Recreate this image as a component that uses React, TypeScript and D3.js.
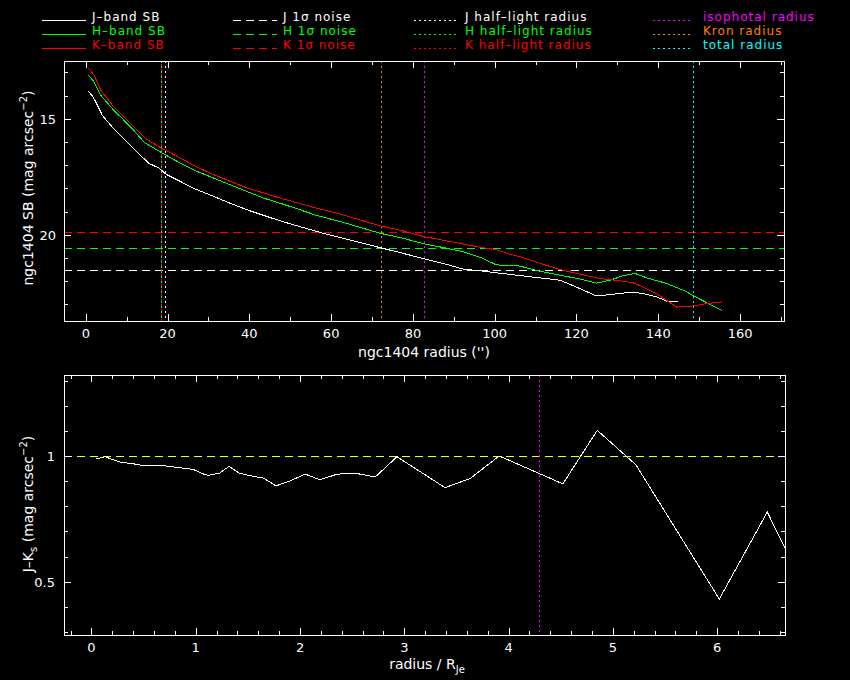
import { scaleLinear, line, range } from "d3";

// surface brightness profiles: [radius ("), SB (mag arcsec^-2)]
const jProfile: [number, number][] = [
  [0.64, 13.81], [1.79, 14.06], [2.85, 14.42], [4.07, 14.86], [6.52, 15.37],
  [8.97, 15.8], [11.4, 16.23], [13.5, 16.6], [15.5, 16.93], [17.95, 17.13],
  [19.6, 17.39], [22.85, 17.68], [26.9, 18.04], [31.0, 18.33], [35.1, 18.63],
  [40.0, 18.96], [44.9, 19.25], [49.8, 19.52], [57.9, 19.93], [66.1, 20.29],
  [71.8, 20.55], [77.5, 20.8], [82.4, 21.02], [88.2, 21.28], [92.2, 21.48],
  [97.1, 21.57], [100.4, 21.64], [106.1, 21.76], [111.0, 21.86], [115.9, 21.96],
  [117.5, 22.07], [120.8, 22.32], [124.9, 22.64], [128.2, 22.58], [133.8, 22.47],
  [136.3, 22.54], [139.6, 22.68], [142.0, 22.86], [144.9, 22.9],
];

const hProfile: [number, number][] = [
  [0.64, 13.12], [2.03, 13.41], [3.67, 13.99], [6.52, 14.57], [8.97, 15.0],
  [11.8, 15.51], [14.3, 16.02], [18.4, 16.45], [22.85, 16.89], [26.9, 17.25],
  [31.0, 17.54], [35.1, 17.83], [39.2, 18.12], [43.3, 18.41], [47.3, 18.63],
  [51.8, 18.89], [56.3, 19.16], [62.0, 19.42], [71.8, 19.93], [77.5, 20.15],
  [82.4, 20.38], [88.2, 20.58], [92.2, 20.73], [97.1, 21.02], [100.4, 21.3],
  [106.1, 21.35], [111.0, 21.57], [115.9, 21.74], [120.8, 21.91], [124.9, 22.09],
  [128.2, 21.96], [131.4, 21.77], [134.3, 21.67], [137.2, 21.86], [142.0, 22.1],
  [146.1, 22.39], [150.2, 22.78], [155.5, 23.26],
];

const kProfile: [number, number][] = [
  [0.64, 12.81], [2.03, 13.12], [3.67, 13.77], [6.52, 14.42], [8.97, 14.86],
  [11.8, 15.37], [14.7, 15.87], [18.4, 16.26], [22.85, 16.67], [26.9, 17.06],
  [31.0, 17.39], [35.1, 17.68], [39.2, 17.97], [43.3, 18.19], [47.3, 18.41],
  [51.8, 18.63], [56.3, 18.85], [62.0, 19.1], [71.8, 19.61], [77.5, 19.83],
  [82.4, 20.07], [89.0, 20.29], [95.5, 20.51], [100.4, 20.65], [103.7, 20.84],
  [106.1, 20.94], [111.0, 21.23], [115.9, 21.5], [120.8, 21.7], [125.7, 21.89],
  [129.4, 21.96], [133.8, 22.07], [136.3, 22.25], [139.6, 22.54], [142.0, 22.83],
  [144.5, 23.12], [148.6, 23.07], [151.8, 22.97], [155.5, 22.9],
];

const noiseSB = [21.51, 20.59, 19.89]; // J, H, K 1-sigma
const halfLightRadius = [19.3, 18.4, 18.4]; // J, H, K
const isophotalRadius = 82.8;
const kronRadius = 72.1;
const totalRadius = 148.6;

// J-Ks colour profile: [radius / R_Je, J-Ks]
const colorProfile: [number, number][] = [
  [0.05, 0.988], [0.13, 0.997], [0.27, 0.976], [0.4, 0.969], [0.52, 0.96],
  [0.65, 0.963], [0.78, 0.957], [0.98, 0.946], [1.06, 0.93], [1.12, 0.923],
  [1.23, 0.932], [1.32, 0.959], [1.42, 0.931], [1.55, 0.919], [1.65, 0.912],
  [1.77, 0.881], [1.9, 0.9], [2.05, 0.928], [2.19, 0.905], [2.35, 0.927],
  [2.46, 0.931], [2.58, 0.928], [2.72, 0.916], [2.93, 0.997], [3.39, 0.874],
  [3.63, 0.91], [3.91, 1.0], [4.52, 0.889], [4.85, 1.102], [5.22, 0.965],
  [6.02, 0.431], [6.48, 0.777], [6.75, 0.55],
];
const colorReference = 1.0;
const isophotalOverRe = 4.29;

const sbTicksX = [0, 20, 40, 60, 80, 100, 120, 140, 160];
const sbTicksY = [15, 20];
const colorTicksX = [0, 1, 2, 3, 4, 5, 6];
const colorTicksY = [0.5, 1];

const legendProfile = ["J\u2013band SB", "H\u2013band SB", "K\u2013band SB"];
const legendNoise = ["J 1\u03c3 noise", "H 1\u03c3 noise", "K 1\u03c3 noise"];
const legendHalf = ["J half\u2013light radius", "H half\u2013light radius", "K half\u2013light radius"];
const legendRadii = ["isophotal radius", "Kron radius", "total radius"];

const bandColors = ["#ffffff", "#00ff00", "#ff0000"];
const radiiColors = ["#ff00ff", "#ff8000", "#00ffff"];
const FONT = "DejaVu Sans";
const DASH = "8,5";
const DOT = "2,3";

type Scale = ReturnType<typeof scaleLinear<number, number>>;

function Frame({ x, y, xMajor, xMinor, yMajor, yMinor }: {
  x: Scale; y: Scale; xMajor: number[]; xMinor: number[]; yMajor: number[]; yMinor: number[];
}) {
  const [left, right] = x.range();
  const [top, bottom] = y.range();
  const ticks: JSX.Element[] = [];
  const addX = (v: number, len: number, k: string) => {
    const px = Math.round(x(v));
    ticks.push(<line key={"xb" + k} x1={px} x2={px} y1={bottom} y2={bottom - len} />);
    ticks.push(<line key={"xt" + k} x1={px} x2={px} y1={top} y2={top + len} />);
  };
  const addY = (v: number, len: number, k: string) => {
    const py = Math.round(y(v));
    ticks.push(<line key={"yl" + k} x1={left} x2={left + len} y1={py} y2={py} />);
    ticks.push(<line key={"yr" + k} x1={right} x2={right - len} y1={py} y2={py} />);
  };
  xMinor.forEach((v, i) => addX(v, 4, "m" + i));
  xMajor.forEach((v, i) => addX(v, 7, "M" + i));
  yMinor.forEach((v, i) => addY(v, 4, "m" + i));
  yMajor.forEach((v, i) => addY(v, 7, "M" + i));
  return (
    <g stroke="#fff" fill="none">
      <rect x={left} y={top} width={right - left} height={bottom - top} />
      {ticks}
    </g>
  );
}

export default function App() {
  // upper panel: SB profiles
  const x1 = scaleLinear().domain([-5.33, 170.75]).range([64, 784]);
  const y1 = scaleLinear().domain([12.51, 23.72]).range([61, 321]);
  // lower panel: colour profile
  const x2 = scaleLinear().domain([-0.263, 6.65]).range([64, 785]);
  const y2 = scaleLinear().domain([1.322, 0.288]).range([375, 635]);

  const sbLine = line<[number, number]>().x((d) => x1(d[0])).y((d) => y1(d[1]));
  const colLine = line<[number, number]>().x((d) => x2(d[0])).y((d) => y2(d[1]));
  const profiles = [jProfile, hProfile, kProfile];

  const rows = [21, 35, 49];
  const vline = (xs: Scale, ys: Scale, v: number, color: string, key: string, off = 0) => (
    <line key={key} x1={Math.round(xs(v))} x2={Math.round(xs(v))} y1={ys.range()[0]} y2={ys.range()[1]}
      stroke={color} strokeDasharray={DOT} strokeDashoffset={off} />
  );

  return (
    <svg width={850} height={680} style={{ position: "absolute", left: 0, top: 0, display: "block" }}
      fontFamily={FONT} shapeRendering="crispEdges">
      <rect width={850} height={680} fill="#000" />
      <defs>
        <clipPath id="clipTop"><rect x={64} y={61} width={720} height={260} /></clipPath>
        <clipPath id="clipBottom"><rect x={64} y={375} width={721} height={260} /></clipPath>
      </defs>

      {/* legend */}
      <g fontSize={12} letterSpacing={1}>
        {legendProfile.map((t, i) => (
          <g key={"lp" + i}>
            <line x1={42} x2={86} y1={rows[i] - 1} y2={rows[i] - 1} stroke={bandColors[i]} />
            <text x={92} y={rows[i]} fill={bandColors[i]}>{t}</text>
          </g>
        ))}
        {legendNoise.map((t, i) => (
          <g key={"ln" + i}>
            <line x1={233} x2={277} y1={rows[i] - 1} y2={rows[i] - 1} stroke={bandColors[i]} strokeDasharray={DASH} />
            <text x={283} y={rows[i]} fill={bandColors[i]}>{t}</text>
          </g>
        ))}
        {legendHalf.map((t, i) => (
          <g key={"lh" + i}>
            <line x1={414} x2={457} y1={rows[i] - 1} y2={rows[i] - 1} stroke={bandColors[i]} strokeDasharray={DOT} />
            <text x={465} y={rows[i]} fill={bandColors[i]}>{t}</text>
          </g>
        ))}
        {legendRadii.map((t, i) => (
          <g key={"lr" + i}>
            <line x1={653} x2={693} y1={rows[i] - 1} y2={rows[i] - 1} stroke={radiiColors[i]} strokeDasharray={DOT} />
            <text x={703} y={rows[i]} fill={radiiColors[i]}>{t}</text>
          </g>
        ))}
      </g>

      {/* upper panel */}
      <g clipPath="url(#clipTop)" fill="none">
        {noiseSB.map((v, i) => (
          <line key={"n" + i} x1={64} x2={784} y1={Math.round(y1(v))} y2={Math.round(y1(v))}
            stroke={bandColors[i]} strokeDasharray={DASH} />
        ))}
        {halfLightRadius.map((v, i) => vline(x1, y1, v, bandColors[i], "h" + i, i === 2 ? 2.5 : 0))}
        {vline(x1, y1, isophotalRadius, radiiColors[0], "iso")}
        {vline(x1, y1, kronRadius, radiiColors[1], "kron")}
        {vline(x1, y1, totalRadius, radiiColors[2], "tot")}
        {profiles.map((p, i) => (
          <path key={"p" + i} d={sbLine(p) ?? ""} stroke={bandColors[i]} />
        ))}
      </g>
      <Frame x={x1} y={y1} xMajor={sbTicksX} xMinor={range(10, 171, 20)} yMajor={sbTicksY} yMinor={range(13, 24, 1)} />
      <g fill="#fff" fontSize={13}>
        {sbTicksX.map((v) => (
          <text key={"tx" + v} x={x1(v)} y={338} textAnchor="middle">{v}</text>
        ))}
        {sbTicksY.map((v) => (
          <text key={"ty" + v} x={56} y={y1(v) + 5} textAnchor="end">{v}</text>
        ))}
      </g>
      <g fill="#fff" fontSize={14}>
        <text x={424} y={357} textAnchor="middle">ngc1404 radius ('')</text>
        <text transform={`translate(33,188) rotate(-90)`} textAnchor="middle">
          ngc1404 SB (mag arcsec<tspan dy={-6} fontSize={10}>{"\u22122"}</tspan><tspan dy={6}>)</tspan>
        </text>
      </g>

      {/* lower panel */}
      <g clipPath="url(#clipBottom)" fill="none">
        <line x1={64} x2={785} y1={Math.round(y2(colorReference))} y2={Math.round(y2(colorReference))}
          stroke="#ffff00" strokeDasharray={DASH} />
        {vline(x2, y2, isophotalOverRe, radiiColors[0], "iso2")}
        <path d={colLine(colorProfile) ?? ""} stroke="#fff" />
      </g>
      <Frame x={x2} y={y2} xMajor={colorTicksX} xMinor={range(-0.2, 6.65, 0.2)} yMajor={colorTicksY} yMinor={range(0.3, 1.33, 0.1)} />
      <g fill="#fff" fontSize={13}>
        {colorTicksX.map((v) => (
          <text key={"cx" + v} x={x2(v)} y={652} textAnchor="middle">{v}</text>
        ))}
        {colorTicksY.map((v) => (
          <text key={"cy" + v} x={55} y={y2(v) + 5} textAnchor="end">{v}</text>
        ))}
      </g>
      <g fill="#fff" fontSize={14}>
        <text x={427} y={669} textAnchor="middle">
          radius / R<tspan dy={4} fontSize={10}>Je</tspan>
        </text>
        <text transform={`translate(33,504) rotate(-90)`} textAnchor="middle">
          J{"\u2013"}K<tspan dy={4} fontSize={10}>s</tspan><tspan dy={-4}> (mag arcsec</tspan>
          <tspan dy={-6} fontSize={10}>{"\u22122"}</tspan><tspan dy={6}>)</tspan>
        </text>
      </g>
    </svg>
  );
}
